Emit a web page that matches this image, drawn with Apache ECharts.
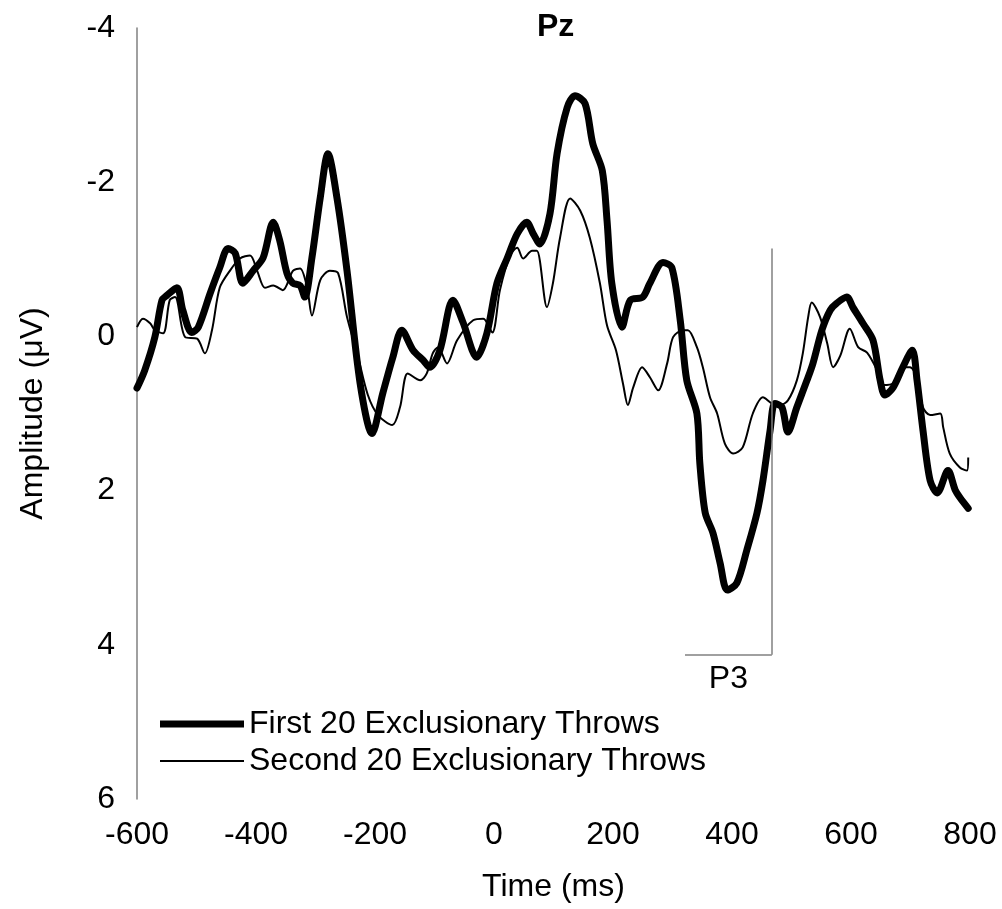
<!DOCTYPE html>
<html>
<head>
    <meta charset="utf-8">
    <script src="https://cdn.jsdelivr.net/npm/echarts@6/dist/echarts.min.js"></script>
    <style>
        html, body { margin: 0; padding: 0; background: #fff; }
        #pz { width: 1002px; height: 909px; }
    </style>
</head>
<body>
    <div id="pz"></div>
<script type="text/javascript">
    // First 20 Exclusionary Throws (thick)
    var firstTime = [-600, -587, -570, -558, -550, -533, -523, -508, -497, -477, -461, -447, -435, -422, -405, -388,
        -371, -360, -348, -338, -326, -318, -306, -292, -279, -264, -247, -225, -205, -187, -170, -155,
        -136, -119, -108, -91, -69, -52, -29, -12, 5, 22, 39, 55, 66, 77, 94, 106,
        123, 136, 153, 166, 182, 190, 198, 215, 229, 250, 262, 284, 299, 313, 324, 341,
        346, 355, 368, 380, 392, 408, 425, 442, 452, 464, 472, 484, 494, 509, 526, 536,
        551, 565, 576, 593, 603, 620, 637, 649, 657, 671, 687, 703, 711, 721, 733, 745,
        763, 775, 783, 797];
    var firstAmp = [0.67, 0.44, 0.01, -0.47, -0.53, -0.63, -0.34, -0.05, -0.12, -0.56, -0.89, -1.14, -1.08, -0.69, -0.85, -1.02,
        -1.48, -1.24, -0.82, -0.69, -0.66, -0.51, -1.02, -1.80, -2.37, -1.80, -0.85, 0.61, 1.26, 0.74, 0.27, -0.08,
        0.18, 0.31, 0.40, 0.18, -0.47, -0.18, 0.27, -0.04, -0.69, -1.01, -1.33, -1.48, -1.33, -1.20, -1.59, -2.37,
        -2.97, -3.12, -3.02, -2.50, -2.15, -1.50, -0.69, -0.12, -0.47, -0.51, -0.69, -0.96, -0.89, -0.21, 0.57, 1.00,
        1.65, 2.29, 2.55, 2.94, 3.29, 3.20, 2.77, 2.29, 1.87, 1.22, 0.87, 0.92, 1.24, 0.92, 0.57, 0.35,
        -0.08, -0.34, -0.43, -0.51, -0.38, -0.17, 0.05, 0.57, 0.76, 0.66, 0.40, 0.18, 0.57, 1.22, 1.87, 2.03,
        1.74, 1.99, 2.09, 2.23];

    // Second 20 Exclusionary Throws (thin)
    var secondTime = [-600, -590, -578, -570, -556, -545, -536, -519, -499, -486, -474, -461, -444, -427, -410, -398,
        -385, -371, -355, -338, -326, -314, -306, -292, -276, -262, -247, -229, -212, -195, -171, -158,
        -145, -124, -113, -103, -94, -79, -62, -35, -18, -3, 10, 27, 39, 49, 64, 72,
        89, 99, 111, 128, 145, 161, 178, 190, 205, 217, 225, 234, 249, 262, 276, 291,
        301, 318, 326, 341, 351, 363, 375, 388, 402, 418, 435, 452, 467, 481, 494, 509,
        519, 528, 534, 548, 560, 570, 582, 598, 612, 627, 644, 654, 671, 687, 699, 711,
        721, 733, 750, 755, 766, 783, 795, 797];
    var secondAmp = [-0.12, -0.23, -0.17, -0.08, -0.04, -0.47, -0.51, 0.01, 0.03, 0.22, -0.08, -0.63, -0.85, -1.01, -1.05, -0.85,
        -0.63, -0.66, -0.60, -0.85, -0.88, -0.63, -0.27, -0.73, -0.85, -0.82, -0.25, 0.25, 0.76, 1.02, 1.15, 0.92,
        0.48, 0.57, 0.48, 0.22, 0.14, 0.35, 0.05, -0.21, -0.23, -0.05, -0.60, -1.05, -1.15, -1.01, -1.11, -1.11,
        -0.38, -0.69, -1.28, -1.79, -1.63, -1.28, -0.69, -0.14, 0.18, 0.62, 0.89, 0.66, 0.40, 0.53, 0.70, 0.35,
        0.01, -0.08, -0.08, 0.14, 0.40, 0.79, 1.00, 1.39, 1.52, 1.44, 1.00, 0.79, 0.87, 0.89, 0.83, 0.57,
        0.22, -0.25, -0.44, -0.25, 0.09, 0.40, 0.25, -0.10, 0.14, 0.21, 0.44, 0.63, 0.61, 0.40, 0.40, 0.53,
        0.92, 1.02, 1.00, 1.18, 1.52, 1.70, 1.74, 1.57];

    var seriesNames = ['First 20 Exclusionary Throws', 'Second 20 Exclusionary Throws'];
    var xTicks = [-600, 800, 200];   // min, max, step
    var yTicks = [-4, 6, 2];

    // P3 bracket (window start, window end, bar top, bar base)
    var p3Window = [321, 467];
    var p3Level = [-1.14, 4.13];

    function pairs(t, v) {
        var out = [];
        for (var i = 0; i < t.length; i++) out.push([t[i], v[i]]);
        return out;
    }

    var font = 'Liberation Sans, Arial, sans-serif';
    var chart = echarts.init(document.getElementById('pz'));

    var option = {
        backgroundColor: '#fff',
        animation: false,
        textStyle: { fontFamily: font, color: '#000' },
        grid: { left: 137, right: 32, top: 28, bottom: 110 },
        graphic: [{
            type: 'text',
            left: 537,
            top: 11,
            style: { text: 'Pz', font: 'bold 32px ' + font, fill: '#000' }
        }],
        legend: [{
            data: [seriesNames[0]],
            left: 160, top: 708, padding: 0,
            icon: 'rect', itemWidth: 84, itemHeight: 7,
            textStyle: { fontSize: 32, color: '#000', lineHeight: 32 }
        }, {
            data: [seriesNames[1]],
            left: 160, top: 745, padding: 0,
            icon: 'rect', itemWidth: 84, itemHeight: 2,
            textStyle: { fontSize: 32, color: '#000', lineHeight: 32 }
        }],
        xAxis: {
            type: 'value',
            min: xTicks[0], max: xTicks[1], interval: xTicks[2],
            name: 'Time (ms)',
            nameLocation: 'middle',
            nameGap: 72,
            nameTextStyle: { fontSize: 32, color: '#000' },
            axisLine: { show: false },
            axisTick: { show: false },
            splitLine: { show: false },
            axisLabel: { fontSize: 32, color: '#000', margin: 20 }
        },
        yAxis: {
            type: 'value',
            inverse: true,
            min: yTicks[0], max: yTicks[1], interval: yTicks[2],
            name: 'Amplitude (μV)',
            nameLocation: 'middle',
            nameGap: 88,
            nameTextStyle: { fontSize: 32, color: '#000' },
            axisLine: { show: true, onZero: false, lineStyle: { color: '#808080', width: 1.5 } },
            axisTick: { show: false },
            splitLine: { show: false },
            axisLabel: { fontSize: 32, color: '#000', margin: 22 }
        },
        series: [{
            name: seriesNames[0],
            type: 'line',
            data: pairs(firstTime, firstAmp),
            symbol: 'none',
            smooth: 0.3,
            color: '#000',
            lineStyle: { color: '#000', width: 7, join: 'round', cap: 'round' },
            z: 3,
            markLine: {
                silent: true,
                symbol: 'none',
                animation: false,
                lineStyle: { color: '#808080', width: 1.5, type: 'solid' },
                data: [
                    [{ coord: [p3Window[1], p3Level[0]], label: { show: false } },
                     { coord: [p3Window[1], p3Level[1]] }],
                    [{ coord: [p3Window[0], p3Level[1]],
                       label: { show: true, formatter: 'P3', position: 'insideMiddleBottom',
                                distance: 8, fontSize: 32, color: '#000', fontFamily: font } },
                     { coord: [p3Window[1], p3Level[1]] }]
                ]
            }
        }, {
            name: seriesNames[1],
            type: 'line',
            data: pairs(secondTime, secondAmp),
            symbol: 'none',
            smooth: 0.3,
            color: '#000',
            lineStyle: { color: '#000', width: 2, join: 'round' },
            z: 2
        }]
    };

    chart.setOption(option);
</script>
</body>
</html>
